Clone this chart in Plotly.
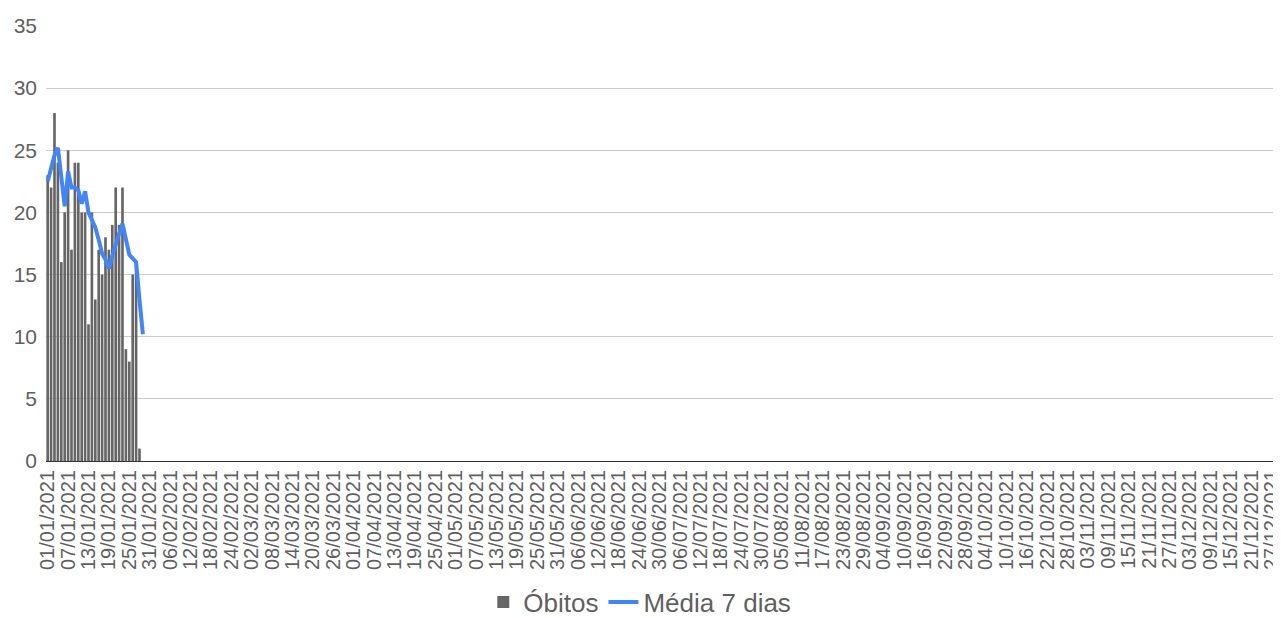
import datetime as dt
import plotly.graph_objects as go

# categories: daily dates of 2021 shown on the axis
start = dt.date(2021, 1, 1)
dates = [(start + dt.timedelta(days=i)).strftime("%d/%m/%Y") for i in range(363)]

# daily deaths (January only)
obitos = [23, 22, 28, 24, 16, 20, 25, 17, 24, 24, 20, 20, 11, 20, 13, 17,
          15, 18, 17, 19, 22, 19, 22, 9, 8, 15, 16, 1]

# 7-day moving average
media7 = [22.5, 23.5, 24.6, 25.2, 22.5, 20.5, 23.3, 22.0, 22.0, 21.8, 20.7,
          21.7, 20.0, 19.3, 18.8, 17.8, 16.7, 16.2, 15.5, 16.5, 17.5, 18.3,
          19.1, 18.0, 16.6, 16.3, 16.0, 13.0, 10.2]

tick_labels = dates[::6]

fig = go.Figure()
fig.add_trace(go.Bar(x=dates[:len(obitos)], y=obitos, name="Óbitos",
                     marker=dict(color="#666666", line=dict(width=0))))
fig.add_trace(go.Scatter(x=dates[:len(media7)], y=media7, name="Média 7 dias",
                         mode="lines", line=dict(color="#4285F4", width=4)))

# the page body adds an 8px offset, so the figure is 8px smaller each way
fig.update_layout(
    width=1273, height=610,
    margin=dict(l=38, r=1, t=18, b=157),
    paper_bgcolor="white", plot_bgcolor="white",
    font=dict(family="Liberation Sans, Arial, sans-serif", color="#5f5f5f"),
    bargap=0.22,
    showlegend=True,
    legend=dict(orientation="h", xref="container", yref="container",
                x=0.4963, xanchor="center", y=0.026, yanchor="middle",
                font=dict(size=26, color="#5f5f5f"),
                traceorder="normal", itemwidth=30),
)
fig.update_xaxes(type="category", categoryorder="array", categoryarray=dates,
                 range=[-0.5, len(dates) - 0.5], tickmode="array",
                 tickvals=tick_labels, ticktext=tick_labels, tickangle=-90,
                 tickfont=dict(size=20, color="#5f5f5f"), automargin=False,
                 showgrid=False, showline=True, linecolor="#333333",
                 linewidth=1, ticks="")
fig.update_yaxes(range=[0, 35], dtick=5, tickfont=dict(size=21, color="#5f5f5f"),
                 showgrid=True, gridcolor="#cccccc", gridwidth=1, automargin=False,
                 zeroline=False, ticks="", ticklabelstandoff=8)

fig.write_html("out.html")
